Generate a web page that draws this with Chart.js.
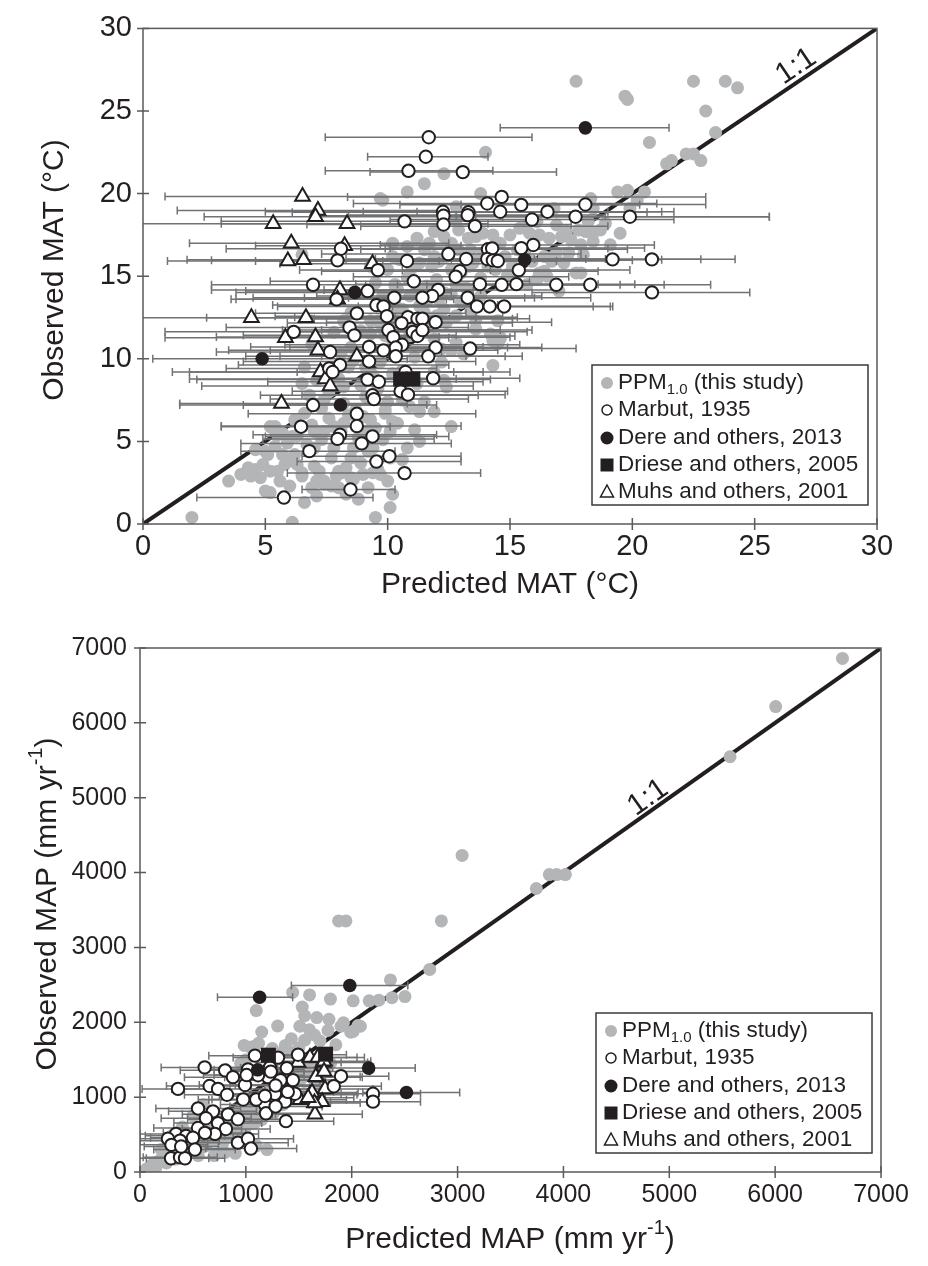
<!DOCTYPE html>
<html>
<head>
<meta charset="utf-8">
<script src="https://cdn.jsdelivr.net/npm/chart.js@4/dist/chart.umd.min.js"></script>
<style>
  body { margin: 0; background: #fff; width: 928px; height: 1266px; position: relative; overflow: hidden; }
  canvas { position: absolute; left: 0; }
  #matChart { top: 0; }
  #mapChart { top: 620px; }
</style>
</head>
<body>
<canvas id="matChart" width="928" height="620"></canvas>
<canvas id="mapChart" width="928" height="646"></canvas>
<script>
// ---- MAT panel (deg C) ----
var matTicks = [0, 5, 10, 15, 20, 25, 30];

// PPM1.0 predictions [predicted, observed]
var ppmMat = [
  [17.7,26.8],[22.5,26.8],[23.8,26.8],[24.3,26.4],[19.7,25.9],[19.8,25.7],[23.0,25.0],[23.4,23.7],[20.7,23.1],[14.0,22.5],
  [21.4,21.8],[21.6,22.0],[22.2,22.4],[22.5,22.4],[22.8,22.0],[12.3,21.2],[11.5,20.6],[10.8,20.1],[9.8,19.6],[13.8,20.0],
  [19.4,20.1],[19.8,20.2],[20.5,20.1],[20.2,19.6],[18.3,19.7],[18.4,19.1],[19.9,19.1],[18.9,18.2],[18.2,18.3],[16.8,19.1],
  [12.8,19.2],[12.8,18.4],[12.9,17.8],[13.6,17.4],[14.6,17.0],[15.0,17.5],[15.4,17.9],[15.8,17.6],[16.2,17.5],[16.6,17.3],
  [17.1,17.4],[17.3,17.7],[17.5,17.2],[17.8,17.8],[18.1,17.7],[18.4,17.6],[17.9,16.9],[18.4,17.1],[19.1,16.9],[16.0,16.9],
  [16.9,16.4],[16.7,15.9],[17.9,15.2],[17.0,14.1],[15.2,14.9],[15.7,14.5],[16.1,14.8],[14.4,15.4],[16.2,15.2],[16.5,15.0],
  [17.7,15.2],[17.2,15.8],[16.8,16.2],[11.2,17.3],[11.7,17.0],[12.3,17.4],[10.8,16.8],[10.2,17.0],[13.4,16.6],[13.5,15.8],
  [14.1,15.6],[10.5,16.0],[11.3,15.8],[11.9,16.2],[11.5,16.6],[10.4,14.2],[10.9,13.8],[11.6,14.4],[12.3,14.0],[10.1,13.4],
  [10.6,13.0],[11.5,12.8],[12.3,13.0],[12.8,12.6],[13.6,12.3],[14.5,12.3],[14.2,11.5],[14.5,11.3],[9.7,19.7],[6.5,16.3],
  [10.2,16.2],[9.3,15.6],[10.3,14.4],[8.5,12.8],[9.3,12.3],[10.2,12.6],[8.2,12.3],[9.3,11.5],[10.2,11.1],[6.6,9.5],
  [6.5,8.5],[5.2,5.9],[5.4,5.9],[5.0,4.4],[5.4,4.7],[4.3,3.4],[4.0,3.0],[4.8,2.8],[5.2,3.2],[5.8,3.6],
  [5.0,2.0],[6.6,1.3],[6.1,0.1],[9.5,0.4],[10.1,1.0],[10.2,1.8],[9.7,3.0],[10.0,2.6],[2.0,0.4],[6.9,2.2],
  [7.4,2.4],[8.0,2.2],[8.5,2.8],[8.0,3.2],[7.2,3.2],[6.2,4.2],[7.0,4.6],[7.7,4.0],[8.5,4.0],[9.2,4.4],
  [7.4,5.6],[8.2,6.1],[6.6,6.7],[9.3,6.3],[9.9,6.7],[7.4,7.5],[8.2,8.3],[9.1,9.5],[8.5,10.7],[6.9,10.9],
  [9.3,10.7],[10.2,9.1],[14.3,9.6],[12.6,5.9],[11.3,6.8],[11.1,5.7],[10.4,6.1],[10.1,5.6],[10.6,3.9],[11.2,8.5],
  [12.3,8.7],[12.6,10.5],[14.3,11.1],[14.6,11.3],[10.6,7.5],[10.1,4.0],[14.6,11.2],[14.5,10.9],[5.3,5.8],[5.5,5.4],
  [6.1,5.3],[5.1,4.2],[5.9,3.9],[6.5,3.1],[7.1,2.6],[7.7,2.3],[8.1,3.1],[8.6,2.7],[9.4,3.1],[9.8,13.8],
  [10.3,14.5],[11.0,15.5],[11.8,15.6],[12.4,16.2],[12.9,16.6],[13.3,17.3],[13.9,17.6],[14.4,16.9],[14.0,16.3],[13.0,15.2],
  [12.0,14.8],[11.3,13.2],[12.6,13.9],[13.2,14.3],[13.8,14.9],[10.7,12.4],[11.6,12.0],[12.4,12.2],[11.9,11.2],[12.8,11.0],
  [13.6,11.8],[13.1,10.3],[12.2,9.8],[11.1,10.1],[10.6,9.3],[11.9,9.2],[12.4,8.3],[11.5,7.4],[11.9,6.8],[10.9,7.1],
  [10.2,6.2],[11.3,5.0],[10.8,4.6],[9.8,5.1],[9.0,6.5],[8.2,7.3],[7.6,8.0],[7.1,8.7],[7.9,9.2],[8.6,9.9],
  [9.6,8.2],[9.1,7.7],[8.7,6.9],[7.6,6.4],[6.9,6.0],[6.3,5.3],[5.9,4.9],[6.7,4.8],[7.3,5.1],[8.1,5.6],
  [8.8,5.2],[9.4,4.6],[8.9,3.7],[8.3,3.4],[9.6,3.3],[7.4,2.6],[6.5,2.9],[5.6,2.6],[4.6,3.3],[4.4,2.9],
  [5.2,1.9],[8.3,1.8],[9.2,2.2],[7.9,2.9],[9.9,6.9],[10.5,8.0],[8.1,10.3],[8.9,11.7],[9.6,12.3],[10.4,13.1],
  [11.2,14.2],[12.6,15.4],[14.8,16.2],[15.6,16.4],[13.5,16.0],[15.1,15.6],[16.4,15.3],[12.2,10.6],[13.4,12.9],[7.8,11.6],
  [7.8,5.9],[8.4,6.6],[9.5,5.8],[10.0,7.4],[8.9,8.4],[9.4,9.0],[8.0,8.8],[7.3,7.0],[8.6,4.6],[9.1,5.6],
  [7.0,5.6],[7.8,4.6],[6.3,3.6],[7.0,3.5],[5.7,4.2],[6.8,7.8],[8.4,9.5],[9.7,9.8],[10.3,10.4],[9.9,11.4],
  [9.5,14.6],[10.0,15.4],[10.8,14.9],[11.6,13.5],[12.1,13.6],[12.8,14.5],[13.3,15.6],[13.9,16.4],[14.3,17.5],[12.6,17.0],
  [11.9,17.7],[12.1,15.9],[11.1,12.2],[12.0,12.6],[13.0,13.4],[10.9,11.4],[9.8,11.8],[10.4,12.1],[13.8,13.8],[14.9,15.1],
  [15.3,16.6],[15.9,15.9],[16.4,16.2],[17.4,16.4],[18.0,16.3],[18.7,17.8],[16.9,18.1],[16.1,18.3],[15.6,18.0],[19.5,17.6],
  [3.5,2.6],[4.9,3.6],[5.5,3.2],[6.0,2.3],[7.1,1.7],[8.8,1.5],[9.0,3.0],[6.2,6.3],[5.7,5.5],[4.6,4.5]
];

// Marbut, 1935 [predicted, observed, error low, error high]
var marbutMat = [
  [11.68,23.41,7.45,15.9],[11.56,22.23,9.18,14.1],[10.85,21.38,7.45,14.3],[13.07,21.3,9.28,16.9],[14.66,19.8,8.36,23.0],
  [14.07,19.4,8.6,21.0],[15.46,19.32,10.5,20.3],[12.26,18.9,5.0,19.0],[12.28,18.66,7.2,17.8],[13.3,18.87,6.1,20.6],
  [13.27,18.7,8.4,18.9],[14.6,18.9,9.0,21.7],[16.53,18.9,11.2,21.2],[18.08,19.34,13.0,23.0],[17.68,18.6,12.8,25.6],
  [19.9,18.6,14.7,25.6],[15.9,18.43,10.1,21.7],[10.69,18.32,3.2,16.1],[12.28,18.13,6.7,17.5],[13.57,18.03,8.9,19.0],
  [15.95,16.89,9.7,20.9],[15.46,16.7,10.1,20.5],[14.1,16.63,8.9,19.8],[14.27,16.68,9.9,19.0],[8.09,16.66,3.4,14.0],
  [7.95,15.96,2.8,12.6],[10.79,15.92,4.6,16.9],[12.48,16.34,7.3,17.9],[13.21,16.04,8.3,18.1],[14.07,16.04,9.5,18.9],
  [14.3,15.96,8.1,20.0],[14.5,15.92,9.8,19.3],[19.19,16.02,14.3,22.8],[20.8,16.02,16.0,24.2],[9.6,15.37,6.4,14.2],
  [15.36,15.37,10.6,19.9],[12.95,15.3,7.3,18.6],[12.78,14.97,8.6,17.4],[11.07,14.69,5.2,15.8],[6.95,14.48,2.8,11.1],
  [13.77,14.52,8.7,18.6],[14.66,14.48,9.1,19.5],[15.26,14.52,10.4,20.1],[16.89,14.48,11.6,21.3],[18.28,14.48,13.5,23.2],
  [20.8,14.02,15.9,24.8],[9.18,14.1,4.2,13.5],[12.06,14.17,7.4,16.9],[11.82,13.8,7.1,16.3],[10.27,13.7,4.5,15.6],
  [11.42,13.7,6.6,16.0],[13.27,13.7,8.4,18.3],[7.91,13.6,3.8,12.4],[9.54,13.25,5.3,14.5],[9.83,13.17,5.5,14.9],
  [13.65,13.17,8.8,19.2],[14.17,13.17,9.5,18.4],[14.76,13.17,10.2,19.1],[9.97,12.58,5.4,14.7],[8.74,12.75,4.6,13.2],
  [10.83,12.52,6.2,15.3],[11.22,12.43,6.9,15.8],[11.42,12.43,7.0,15.1],[11.96,12.22,7.5,16.7],[10.57,12.16,5.9,15.1],
  [8.44,11.9,3.4,13.3],[8.64,11.42,4.1,12.8],[6.16,11.63,0.9,11.2],[10.03,11.74,5.7,14.6],[10.23,11.31,6.1,15.0],
  [11.03,11.63,6.4,15.7],[11.22,11.38,6.9,15.2],[11.42,11.74,7.3,15.9],[10.59,10.85,5.8,15.4],[10.33,10.68,6.0,14.9],
  [9.24,10.72,4.4,13.9],[9.83,10.51,5.2,14.5],[7.65,10.41,3.0,12.2],[13.37,10.62,9.4,17.7],[11.96,10.68,7.1,16.3],
  [11.66,10.15,7.3,15.5],[10.33,10.15,5.6,14.8],[9.24,9.84,4.1,13.6],[8.05,9.63,3.9,12.5],[7.61,9.42,3.4,12.0],
  [7.75,9.2,1.9,12.7],[9.18,8.74,2.2,14.2],[9.64,8.61,5.1,13.9],[10.73,9.2,6.3,15.0],[11.86,8.82,7.2,15.4],
  [10.53,8.04,6.1,14.9],[10.83,7.83,6.5,14.8],[9.38,7.79,4.8,13.7],[9.44,7.56,5.2,13.3],[6.95,7.2,1.5,11.6],
  [8.74,6.67,4.3,13.6],[8.74,5.93,3.2,13.0],[6.46,5.89,3.2,10.1],[8.05,5.4,4.5,12.0],[7.95,5.15,4.9,11.9],
  [9.38,5.3,5.0,12.5],[8.94,4.88,4.0,12.6],[6.8,4.41,4.0,10.3],[10.07,4.1,6.5,13.0],[9.54,3.78,6.3,13.0],
  [10.69,3.08,5.9,13.8],[8.48,2.09,6.5,10.3],[5.76,1.6,2.2,9.4]
];

// Dere and others, 2013
var dereMat = [
  [18.08,23.98,14.6,21.5],[15.6,16.0,11.0,21.2],[8.66,14.02,3.8,12.6],[4.87,10.0,0.4,10.8],[8.07,7.2,4.1,12.0]
];

// Driese and others, 2005
var drieseMat = [[10.53,8.78],[11.03,8.78]];

// Muhs and others, 2001
var muhsMat = [
  [6.52,19.82,0.9,14.6],[7.15,18.98,1.4,12.2],[7.05,18.6,2.5,13.6],[5.32,18.18,-0.5,10.7],[8.34,18.18,3.2,14.1],
  [6.06,17.0,1.9,12.5],[8.24,16.85,4.6,13.0],[5.92,15.92,1.0,12.1],[6.56,16.0,1.8,10.8],[9.38,15.75,5.6,14.0],
  [8.05,14.17,2.8,13.8],[7.95,13.6,3.6,12.7],[4.43,12.48,-0.5,10.3],[6.66,12.48,2.6,13.6],[5.82,11.27,0.9,12.5],
  [7.05,11.32,3.0,12.1],[7.15,10.51,3.5,11.8],[8.74,10.15,4.2,13.2],[7.25,9.2,1.2,13.9],[7.45,8.78,1.9,12.8],
  [7.65,8.36,2.4,13.5],[5.66,7.3,1.5,10.8]
];

// ---- MAP panel (mm/yr) ----
var mapTicks = [0, 1000, 2000, 3000, 4000, 5000, 6000, 7000];

var ppmMap = [
  [6636,6861],[6005,6218],[5574,5547],[3043,4229],[3744,3787],[3867,3973],[3936,3973],[4018,3973],[1876,3354],[1945,3354],
  [2847,3354],[2737,2706],[2366,2566],[1442,2399],[1602,2366],[1799,2310],[2014,2287],[2165,2287],[2256,2296],[2380,2329],
  [2503,2343],[1098,2157],[1533,2203],[1556,2087],[1670,2063],[1785,2040],[1510,1947],[1899,1947],[2059,1956],[1991,1868],
  [1776,1891],[1556,1761],[1373,1691],[984,1691],[1043,1667],[1922,1993],[1648,1830],[2014,1877],[2082,1947],
  [100,80],[180,150],[250,120],[300,250],[350,300],[420,380],[480,330],[520,450],[600,520],[650,480],
  [700,600],[760,640],[820,700],[880,760],[940,820],[1000,880],[1060,930],[1120,990],[1180,1050],[1250,1120],
  [1320,1180],[1400,1260],[1480,1330],[1560,1400],[1640,1480],[200,300],[260,180],[380,200],[450,250],[560,300],
  [620,350],[700,420],[780,380],[850,470],[920,520],[1000,600],[1080,650],[1150,700],[1260,780],[1100,350],
  [1200,300],[900,250],[800,260],[700,220],[1350,900],[1450,980],[1550,1050],[1650,1150],[1700,1250],[1750,1350],
  [1800,1450],[1220,1600],[1320,1580],[1250,1650],[1080,1680],[1120,1720],[1400,1620],[1500,1660],[950,1450],[1000,1500],
  [600,900],[500,750],[400,600],[300,480],[550,220],[150,60],[60,40],
  [130,120],[220,210],[330,170],[410,290],[470,420],[560,390],[640,560],[730,520],[780,710],[860,600],
  [950,690],[1050,760],[1130,860],[1200,950],[1280,1000],[1370,1060],[1450,1150],[1520,1240],[1600,1330],[1680,1420],
  [1300,1950],[1430,1780],[1600,1900],[1700,1750],[1850,1700],[1150,1870]
];

var marbutMap = [
  [359,1110,20,720],[611,1397,200,1000],[804,1358,380,1300],[878,1267,420,1280],[658,1149,250,1050],
  [737,1110,300,1180],[822,1032,420,1250],[548,849,150,950],[689,810,270,1100],[831,770,400,1280],
  [925,705,450,1400],[623,718,200,1050],[737,653,320,1150],[548,588,130,960],[812,575,400,1230],
  [708,509,300,1120],[614,522,220,1000],[340,509,0,700],[435,483,50,800],[264,444,-50,600],
  [378,418,0,750],[500,457,100,880],[925,392,500,1400],[1020,444,600,1450],[1048,313,620,1480],
  [519,300,130,900],[293,183,-30,650],[378,196,30,730],[425,183,60,800],[1020,1371,600,1450],
  [992,1162,560,1420],[1096,966,650,1550],[1181,901,760,1600],[1190,784,780,1620],[1275,1045,850,1700],
  [1332,1162,900,1780],[1445,1228,1000,1900],[1370,940,950,1800],[1379,679,950,1830],[1209,1267,800,1650],
  [1115,1293,700,1550],[1464,1045,1050,1900],[1228,1397,820,1660],[1899,1280,1450,2350],[1086,1554,650,1520],
  [1304,1528,880,1750],[1493,1567,1050,1950],[2201,1045,1750,2650],[2201,940,1750,2650],[1007,1295,600,1430],
  [1236,1341,800,1680],[1387,1388,950,1820],[1327,1225,900,1750],[1281,1155,850,1700],[1396,1071,980,1830],
  [1831,1146,1400,2280],[975,969,550,1400],[1098,969,680,1520],[1181,1015,750,1600],[1281,876,850,1720],
  [297,363,-40,640],[389,340,40,740]
];

var dereMap = [
  [1130,2334,732,1442],[1982,2492,1430,2530],[1112,1365,700,1550],[2160,1388,1700,2600],[2517,1062,2105,3020]
];

var drieseMap = [[1213,1560],[1753,1574]];

var muhsMap = [
  [1493,1463,1100,1900],[1606,1528,1200,2050],[1729,1463,1300,2150],[1672,1267,1250,2100],[1748,1110,1300,2200],
  [1512,966,1100,1950],[1606,1032,1180,2050],[1720,940,1300,2150],[1653,770,1250,2100],[1680,1528,1250,2120],
  [1739,1481,1320,2180],[1661,1272,1230,2080],[1625,1062,1200,2060],[1648,922,1220,2080],[1739,1341,1300,2170],
  [1588,992,1150,2020]
];

var legendLabels = [
  [{t: 'PPM'}, {t: '1.0', sub: true}, {t: ' (this study)'}],
  [{t: 'Marbut, 1935'}],
  [{t: 'Dere and others, 2013'}],
  [{t: 'Driese and others, 2005'}],
  [{t: 'Muhs and others, 2001'}]
];

var FONT = '"Liberation Sans", Arial, Helvetica, sans-serif';
var INK = '#231f20';
var GREY = '#b3b5b7';
var BARGREY = '#717274';

function xy(rows) {
  return rows.map(function (r) { return {x: r[0], y: r[1]}; });
}

// text made of pieces, some of them sub/superscript
function partsWidth(ctx, parts, size) {
  var w = 0;
  parts.forEach(function (p) {
    ctx.font = ((p.sub || p.sup) ? Math.round(size * 0.68) : size) + 'px ' + FONT;
    w += ctx.measureText(p.t).width;
  });
  return w;
}

function drawParts(ctx, parts, x, y, size) {
  ctx.textAlign = 'left';
  ctx.textBaseline = 'middle';
  parts.forEach(function (p) {
    var dy = p.sub ? size * 0.32 : (p.sup ? -size * 0.38 : 0);
    ctx.font = ((p.sub || p.sup) ? Math.round(size * 0.68) : size) + 'px ' + FONT;
    ctx.fillText(p.t, x, y + dy);
    x += ctx.measureText(p.t).width;
  });
}

function legendMarker(ctx, kind, x, y) {
  ctx.lineWidth = 1.5;
  ctx.strokeStyle = INK;
  ctx.beginPath();
  if (kind === 'ppm') {
    ctx.fillStyle = GREY;
    ctx.arc(x, y, 6, 0, Math.PI * 2);
    ctx.fill();
  } else if (kind === 'marbut') {
    ctx.fillStyle = '#fff';
    ctx.arc(x, y, 5, 0, Math.PI * 2);
    ctx.fill(); ctx.stroke();
  } else if (kind === 'dere') {
    ctx.fillStyle = INK;
    ctx.arc(x, y, 6.5, 0, Math.PI * 2);
    ctx.fill();
  } else if (kind === 'driese') {
    ctx.fillStyle = INK;
    ctx.rect(x - 6.5, y - 6.5, 13, 13);
    ctx.fill();
  } else {
    ctx.fillStyle = '#fff';
    ctx.moveTo(x, y - 7);
    ctx.lineTo(x + 6.5, y + 5);
    ctx.lineTo(x - 6.5, y + 5);
    ctx.closePath();
    ctx.fill(); ctx.stroke();
  }
}

function makePlugins(p) {
  // horizontal error bars, drawn right after the grey cloud
  var errorBars = {
    id: 'errorBars',
    afterDatasetDraw: function (chart, args) {
      if (chart.data.datasets[args.index].key !== 'ppm') return;
      var ctx = chart.ctx, a = chart.chartArea, sx = chart.scales.x, sy = chart.scales.y;
      ctx.save();
      ctx.beginPath();
      ctx.rect(a.left, a.top, a.right - a.left, a.bottom - a.top);
      ctx.clip();
      ctx.strokeStyle = BARGREY;
      ctx.lineWidth = 1.5;
      chart.data.datasets.forEach(function (ds) {
        if (!ds.bars) return;
        ds.bars.forEach(function (b) {
          var py = sy.getPixelForValue(b[1]);
          var x0 = sx.getPixelForValue(b[2]), x1 = sx.getPixelForValue(b[3]);
          ctx.beginPath();
          ctx.moveTo(x0, py); ctx.lineTo(x1, py);
          ctx.moveTo(x0, py - 4); ctx.lineTo(x0, py + 4);
          ctx.moveTo(x1, py - 4); ctx.lineTo(x1, py + 4);
          ctx.stroke();
        });
      });
      ctx.restore();
    }
  };

  var frame = {
    id: 'frame',
    afterDatasetsDraw: function (chart) {
      var ctx = chart.ctx, a = chart.chartArea, sx = chart.scales.x, sy = chart.scales.y;
      ctx.save();
      // 1:1 label along the line
      var ang = Math.atan2(sy.getPixelForValue(p.max) - sy.getPixelForValue(0),
                           sx.getPixelForValue(p.max) - sx.getPixelForValue(0));
      ctx.translate(sx.getPixelForValue(p.oneAt[0]), sy.getPixelForValue(p.oneAt[1]));
      ctx.rotate(ang);
      ctx.font = '30px ' + FONT;
      ctx.fillStyle = INK;
      ctx.textAlign = 'center';
      ctx.textBaseline = 'middle';
      ctx.fillText('1:1', 0, 0);
      ctx.setTransform(1, 0, 0, 1, 0, 0);

      ctx.strokeStyle = '#5a5a5c';
      ctx.lineWidth = 1.5;
      ctx.strokeRect(a.left, a.top, a.right - a.left, a.bottom - a.top);
      ctx.beginPath();
      sx.ticks.forEach(function (t) {
        var px = sx.getPixelForValue(t.value);
        ctx.moveTo(px, a.bottom - 6); ctx.lineTo(px, a.bottom + 6);
      });
      sy.ticks.forEach(function (t) {
        var py = sy.getPixelForValue(t.value);
        ctx.moveTo(a.left - 6, py); ctx.lineTo(a.left + 6, py);
      });
      ctx.stroke();

      // legend box
      var w = 276, h = 140;
      var left = a.right - 9 - w, top = a.bottom - 19 - h;
      ctx.fillStyle = '#fff';
      ctx.fillRect(left, top, w, h);
      ctx.strokeStyle = '#3a3a3c';
      ctx.strokeRect(left, top, w, h);
      var rows = [18, 45, 73, 100, 127];
      var kinds = ['ppm', 'marbut', 'dere', 'driese', 'muhs'];
      kinds.forEach(function (k, i) {
        legendMarker(ctx, k, left + 15, top + rows[i]);
        ctx.fillStyle = INK;
        drawParts(ctx, legendLabels[i], left + 26, top + rows[i], 22.5);
      });

      // axis titles
      ctx.fillStyle = INK;
      var xw = partsWidth(ctx, p.xTitle, 30);
      drawParts(ctx, p.xTitle, p.xTitlePos[0] - xw / 2, p.xTitlePos[1], 30);
      var yw = partsWidth(ctx, p.yTitle, 30);
      ctx.translate(p.yTitlePos[0], p.yTitlePos[1]);
      ctx.rotate(-Math.PI / 2);
      drawParts(ctx, p.yTitle, -yw / 2, 0, 30);
      ctx.restore();
    }
  };
  return [errorBars, frame];
}

function buildChart(canvasId, p) {
  var tickFont = {family: FONT, size: p.tickSize};
  return new Chart(document.getElementById(canvasId), {
    type: 'scatter',
    data: {
      datasets: [
        {type: 'line', label: '1:1', data: [{x: 0, y: 0}, {x: p.max, y: p.max}],
         borderColor: INK, borderWidth: 4, pointRadius: 0, order: 10},
        {label: 'PPM1.0 (this study)', key: 'ppm', data: xy(p.ppm), backgroundColor: GREY,
         borderWidth: 0, pointRadius: 6.5, order: 9},
        {label: 'Muhs and others, 2001', data: xy(p.muhs), bars: p.muhs, pointStyle: 'triangle',
         pointRadius: 8.5, backgroundColor: '#fff', borderColor: INK, borderWidth: 2, order: 4},
        {label: 'Marbut, 1935', data: xy(p.marbut), bars: p.marbut, pointRadius: 6.2,
         backgroundColor: '#fff', borderColor: INK, borderWidth: 2, order: 3},
        {label: 'Dere and others, 2013', data: xy(p.dere), bars: p.dere, pointRadius: 6.8,
         backgroundColor: INK, borderWidth: 0, order: 2},
        {label: 'Driese and others, 2005', data: xy(p.driese), pointStyle: 'rect', pointRadius: 10.6,
         backgroundColor: INK, borderWidth: 0, order: 1}
      ]
    },
    options: {
      responsive: false,
      animation: false,
      events: [],
      layout: {padding: {left: 0, right: p.padR, top: 16, bottom: 0}},
      plugins: {legend: {display: false}, tooltip: {enabled: false}},
      scales: {
        x: {
          type: 'linear', min: 0, max: p.max,
          afterBuildTicks: function (s) { s.ticks = p.ticks.map(function (v) { return {value: v}; }); },
          ticks: {color: INK, font: tickFont, padding: p.xPad, maxRotation: 0, autoSkip: false,
                  callback: function (v) { return String(v); }},
          grid: {display: false, drawTicks: false},
          border: {display: false},
          afterFit: function (s) { s.height = p.xAxisH; }
        },
        y: {
          type: 'linear', min: 0, max: p.max,
          afterBuildTicks: function (s) { s.ticks = p.ticks.map(function (v) { return {value: v}; }); },
          ticks: {color: INK, font: tickFont, padding: p.yPad, autoSkip: false,
                  callback: function (v) { return String(v); }},
          grid: {display: false, drawTicks: false},
          border: {display: false},
          afterFit: function (s) { s.width = p.yAxisW; }
        }
      }
    },
    plugins: makePlugins(p)
  });
}

buildChart('matChart', {
  max: 30, ticks: matTicks, tickSize: 29,
  ppm: ppmMat, marbut: marbutMat, dere: dereMat, driese: drieseMat, muhs: muhsMat,
  padR: 51, xAxisH: 96, yAxisW: 143, xPad: 6, yPad: 11,
  oneAt: [26.7, 27.7],
  xTitle: [{t: 'Predicted MAT (°C)'}], xTitlePos: [510, 585],
  yTitle: [{t: 'Observed MAT (°C)'}], yTitlePos: [55, 270]
});

buildChart('mapChart', {
  max: 7000, ticks: mapTicks, tickSize: 25,
  ppm: ppmMap, marbut: marbutMap, dere: dereMap, driese: drieseMap, muhs: muhsMap,
  padR: 47, xAxisH: 94, yAxisW: 140, xPad: 8, yPad: 13,
  oneAt: [4800, 5000],
  xTitle: [{t: 'Predicted MAP (mm yr'}, {t: '-1', sup: true}, {t: ')'}], xTitlePos: [510, 620],
  yTitle: [{t: 'Observed MAP (mm yr'}, {t: '-1', sup: true}, {t: ')'}], yTitlePos: [48, 284]
});
</script>
</body>
</html>
